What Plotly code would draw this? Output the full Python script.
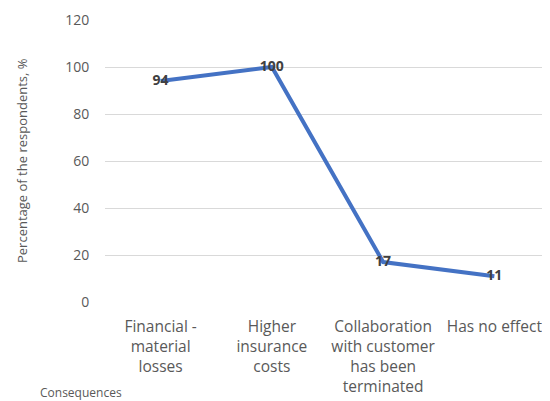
import plotly.graph_objects as go

categories = ["Financial -<br>material<br>losses", "Higher<br>insurance<br>costs",
              "Collaboration<br>with customer<br>has been<br>terminated", "Has no effect"]
values = [94, 100, 17, 11]
y_ticks = [0, 20, 40, 60, 80, 100, 120]

FONT = "Open Sans"
GRAY = "#595959"
OFF = 8  # page body margin

fig = go.Figure()
fig.add_trace(go.Scatter(
    x=list(range(len(categories))), y=values,
    mode="lines+text",
    line=dict(color="#4472C4", width=4),
    text=[str(v) for v in values],
    textposition="middle center",
    textfont=dict(family=FONT, size=14, color="#404040", weight="bold"),
    showlegend=False, cliponaxis=False,
))

fig.update_layout(
    width=550 - OFF, height=401 - OFF,
    margin=dict(l=105 - OFF, r=0, t=20 - OFF, b=99),
    paper_bgcolor="white", plot_bgcolor="white",
    font=dict(family=FONT, color=GRAY),
    xaxis=dict(
        range=[-0.5, 3.5], tickvals=list(range(len(categories))), ticktext=categories,
        showgrid=False, zeroline=False, showline=False,
        ticks="outside", ticklen=10, tickcolor="rgba(0,0,0,0)",
        tickfont=dict(size=15.5, color=GRAY), tickangle=0,
    ),
    yaxis=dict(
        range=[0, 120], tickvals=y_ticks,
        showgrid=True, gridcolor="#D9D9D9", gridwidth=1,
        zeroline=False, showline=False,
        ticks="outside", ticklen=12, tickcolor="rgba(0,0,0,0)",
        tickfont=dict(size=14, color=GRAY),
    ),
    annotations=[
        dict(text="Percentage of the respondents, %", textangle=-90,
             xref="paper", yref="paper", x=(22 - 105) / 445, y=0.5,
             xanchor="center", yanchor="middle", showarrow=False,
             font=dict(size=13, color=GRAY)),
        dict(text="Consequences", xref="paper", yref="paper",
             x=(38 - 105) / 445, y=(302 - 392) / 282,
             xanchor="left", yanchor="middle", showarrow=False,
             font=dict(size=12, color=GRAY)),
    ],
)

fig.write_html("out.html")
